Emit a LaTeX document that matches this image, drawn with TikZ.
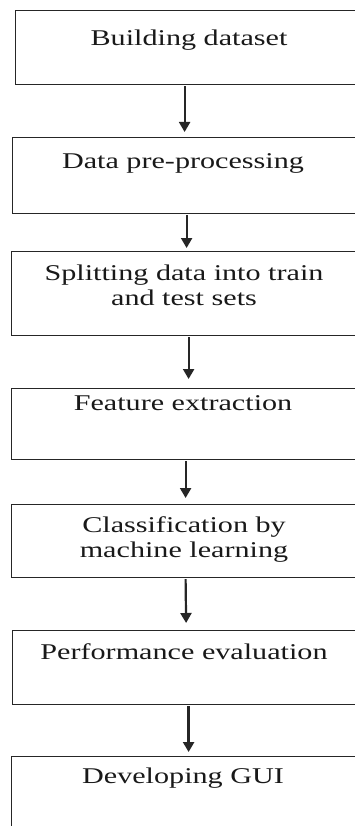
\documentclass[tikz,border=0pt]{standalone}
\usepackage{fontspec}
\setmainfont{Liberation Serif}
\newfontfamily\wideserif[FakeStretch=1.34]{Liberation Serif}
\usetikzlibrary{arrows.meta}
\tikzset{
  stepbox/.style={draw=black!85, line width=1.2pt, rectangle, inner sep=0pt, anchor=north west},
  steptext/.style={font=\wideserif\fontsize{22.5}{25}\selectfont, align=center, inner sep=0pt, text=black!90},
  arr/.style={-{Triangle[length=10pt,width=11pt]}, line width=2.2pt, black!85}
}
\begin{document}
\begin{tikzpicture}[x=1pt,y=-1pt]
\useasboundingbox (0,0) rectangle (355,826);
\clip (0,0) rectangle (355,826);
\fill[white] (0,0) rectangle (355,826);
% boxes
\node[stepbox, minimum width=347pt, minimum height=74pt] (b1) at (15,10) {};
\node[stepbox, minimum width=350pt, minimum height=76pt] (b2) at (12,137) {};
\node[stepbox, minimum width=351pt, minimum height=84pt] (b3) at (11,251) {};
\node[stepbox, minimum width=351pt, minimum height=71pt] (b4) at (11,388) {};
\node[stepbox, minimum width=351pt, minimum height=73pt] (b5) at (11,504) {};
\node[stepbox, minimum width=350pt, minimum height=74pt] (b6) at (12,630) {};
\node[stepbox, minimum width=351pt, minimum height=90pt] (b7) at (11,756) {};
% texts
\node[steptext] (t1) at (189,40) {Building dataset};
\node[steptext] (t2) at (183,163) {Data pre-processing};
\node[steptext] (t3) at (184,285.5) {Splitting data into train\\and test sets};
\node[steptext] (t4) at (183,403) {Feature extraction};
\node[steptext] (t5) at (184,539.5) {Classification by\\machine learning};
\node[steptext] (t6) at (184,652) {Performance evaluation};
\node[steptext] (t7) at (183,778) {Developing GUI};
% arrows
\draw[arr] ([xshift=184pt-188.5pt,yshift=-1pt]b1.south) -- ([xshift=184pt-187pt,yshift=5pt]b2.north);
\draw[arr] ([xshift=186pt-187pt,yshift=-1pt]b2.south) -- ([xshift=186pt-186.5pt,yshift=3pt]b3.north);
\draw[arr] ([xshift=188pt-186.5pt,yshift=-1pt]b3.south) -- ([xshift=188pt-186.5pt,yshift=9pt]b4.north);
\draw[arr] ([xshift=185pt-186.5pt,yshift=-1pt]b4.south) -- ([xshift=185pt-186.5pt,yshift=6pt]b5.north);
\draw[arr] ([xshift=185pt-186.5pt,yshift=-1pt]b5.south) -- ([xshift=185pt-186.5pt,yshift=7pt]b6.north);
\draw[arr, line width=3pt] ([xshift=188pt-187pt,yshift=-1pt]b6.south) -- ([xshift=188pt-186.5pt,yshift=4pt]b7.north);
\end{tikzpicture}
\end{document}
